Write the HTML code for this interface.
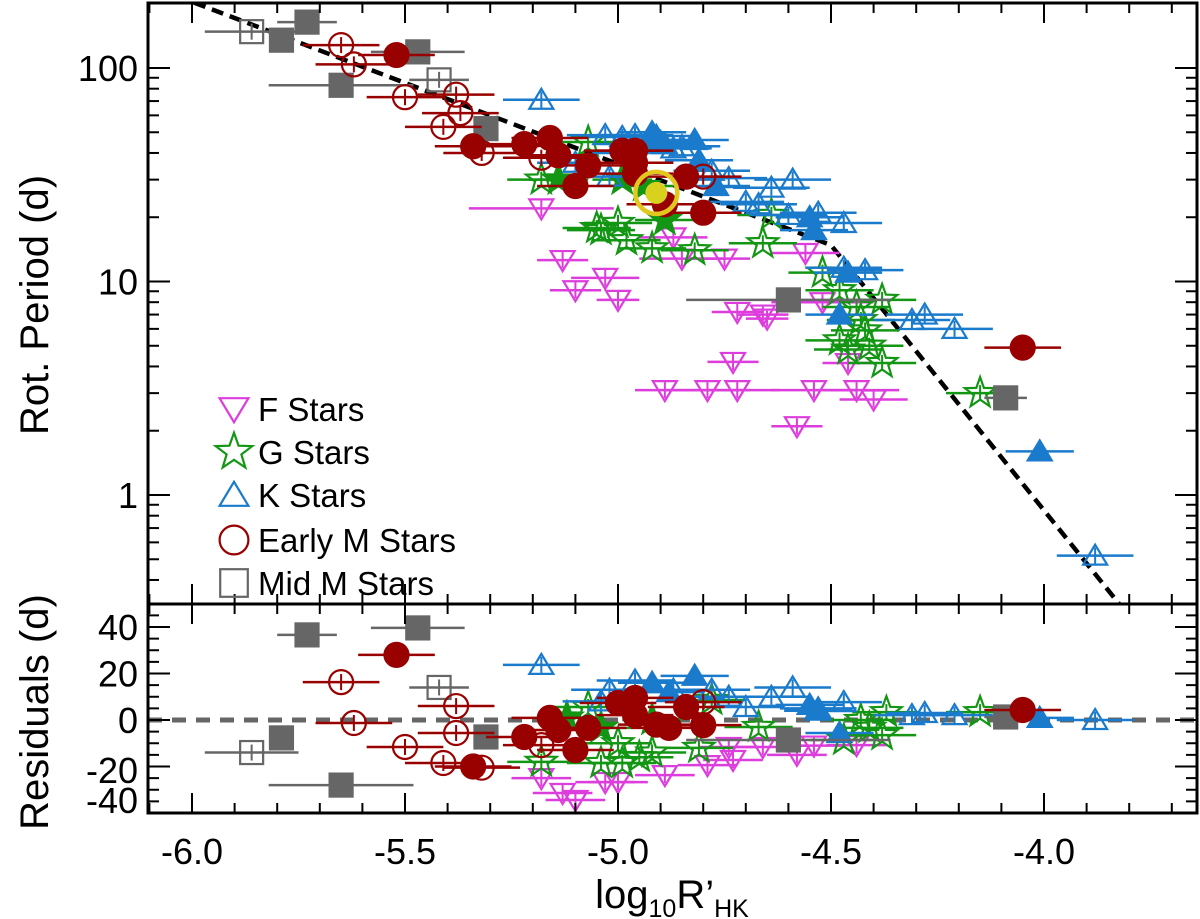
<!DOCTYPE html>
<html><head><meta charset="utf-8"><style>
html,body{margin:0;padding:0;background:#fff;width:1200px;height:919px;overflow:hidden}
svg text{font-family:"Liberation Sans",Arial,sans-serif;fill:#000}
</style></head><body>
<svg id="chart" width="1200" height="919" viewBox="0 0 1200 919" xmlns="http://www.w3.org/2000/svg">
<defs>
<clipPath id="clipTop"><rect x="148" y="3" width="1049" height="601"/></clipPath>
<clipPath id="clipBot"><rect x="148" y="604" width="1049" height="209"/></clipPath>
</defs>
<g id="topMarks" clip-path="url(#clipTop)"></g>
<g id="botMarks" clip-path="url(#clipBot)"></g>
<g id="axes"></g>
<text transform="translate(48,305) rotate(-90)" text-anchor="middle" font-size="40">Rot. Period (d)</text>
<text transform="translate(48,712) rotate(-90)" text-anchor="middle" font-size="40">Residuals (d)</text>
<text x="672" y="908" text-anchor="middle" font-size="40">log<tspan font-size="25" dy="9">10</tspan><tspan dy="-9">R’</tspan><tspan font-size="25" dy="9">HK</tspan></text>
<g id="legend"></g>
</svg>
<script>
// ---------- data ----------
const fX=[-5.18,-5.13,-5.10,-5.03,-5.00,-4.87,-4.85,-4.75,-4.72,-4.66,-4.65,-4.56,-4.52,-4.46,-4.73,-4.89,-4.79,-4.72,-4.54,-4.44,-4.40,-4.58];
const fP=[22,12.6,9.1,10.4,8.2,16.1,12.8,12.8,7.2,7.0,6.7,13.6,8.0,4.15,4.2,3.1,3.1,3.1,3.1,3.1,2.8,2.1];
const fE=[0.17,0.06,0.06,0.08,0.05,0.08,0.1,0.06,0.06,0.06,0.05,0.08,0.12,0.06,0.06,0.07,0.1,0.1,0.1,0.1,0.08,0.06];
const gX=[-5.18,-5.07,-5.04,-5.00,-4.98,-4.92,-4.82,-4.66,-4.64,-4.52,-4.48,-4.44,-4.43,-4.41,-4.42,-4.38,-4.38,-4.46,-4.15,-4.48,-5.05];
const gP=[30,45,17.4,18.8,15.6,14.3,14,15.1,20.5,11,5.3,7.6,6.6,5.0,5.9,8.2,4.15,4.8,3.0,9.1,17.8];
const gFX=[-5.14,-4.89,-4.99,-4.94];
const gFP=[30,19.4,30,28];
const kX=[-5.18,-5.03,-4.99,-4.96,-4.87,-4.85,-5.10,-5.02,-4.78,-4.74,-4.59,-4.64,-4.70,-4.47,-4.60,-4.53,-4.47,-4.42,-4.31,-4.28,-4.21,-3.88,-4.67,-4.97,-4.90];
const kP=[71,48.5,47.5,48.5,42,43,36,31,33,30.5,30,27.5,23.6,18.8,20.5,21,11.6,11.3,6.6,7,6.0,0.52,23,40,45];
const kFX=[-4.92,-4.91,-4.82,-4.81,-4.77,-4.55,-4.54,-4.46,-4.48,-4.01,-4.89];
const kFP=[50,48,46,37,28,20,17.4,11,7,1.6,44];
const emX=[-5.65,-5.62,-5.50,-5.38,-5.37,-5.41,-5.32,-5.18,-4.80];
const emP=[128,104,73,75,61.5,53,40,38,31];
const emFX=[-5.52,-5.34,-5.22,-5.16,-5.14,-5.07,-5.10,-4.99,-4.96,-4.96,-4.84,-4.80,-4.89,-4.96,-4.05];
const emFP=[115,43,44,47,39,35,28,41,41,36,31,21,23,32,4.9];
const mmFX=[-5.73,-5.79,-5.47,-5.65,-5.31,-4.60,-4.09];
const mmFP=[164,135,119,83,52,8.2,2.85];
const mmFE=[0.07,0.02,0.11,0.17,0.02,0.24,0.05];
const mmX=[-5.86,-5.42];
const mmP=[148,88];
const mmE=[0.11,0.07];
const sunX=[-4.91];
const sunP=[26];
const fitX=[-6.12,-4.50,-3.80];
const fitP=[252,14.8,0.27];
// residuals
const rfX=[-5.18,-5.13,-5.10,-5.03,-5.00,-4.89,-4.79,-4.74,-4.73,-4.66,-4.58,-4.54,-4.44];
const rfV=[-25,-31.4,-34.4,-26.7,-26.7,-23.7,-19.4,-11.6,-17.2,-11.6,-15,-11,-10.8];
const rgX=[-5.18,-5.07,-5.04,-4.99,-4.95,-4.92,-4.81,-5.00,-4.78,-4.67,-4.15,-4.47,-4.43,-4.38,-4.41,-4.37];
const rgV=[-18,5.6,-18.5,-18.5,-16,-14,-12,-10,8.6,-3,3.4,-8.6,0,-6.5,-3.4,3.4];
const rgFX=[-5.12,-4.92,-5.04];
const rgFV=[1,0,-3.4];
const rkX=[-5.18,-4.96,-5.02,-4.87,-4.78,-4.74,-4.70,-4.64,-4.59,-4.47,-4.31,-4.28,-4.21,-3.88,-5.04,-4.53];
const rkV=[23.7,17,13,13,13,10,5.6,10,14,7.7,2.1,3,2.1,0,8,5];
const rkFX=[-4.92,-4.82,-4.55,-4.53,-4.48,-4.01,-4.88];
const rkFV=[16,19,6.5,4,-5.6,0.9,12];
const remX=[-5.65,-5.62,-5.50,-5.38,-5.38,-5.41,-5.32,-5.18,-4.80];
const remV=[16.3,-1.3,-11.6,6,-5.6,-18.5,-20.5,-10.8,7.7];
const remFX=[-5.52,-5.34,-5.22,-5.16,-5.14,-5.10,-5.07,-5.00,-4.96,-4.96,-4.91,-4.88,-4.84,-4.80,-4.05];
const remFV=[28,-20,-7.3,0.9,-4.3,-12.9,-3.4,7.3,9.5,2.1,-2,-3.4,5.6,-2.2,4.3];
const rmmFX=[-5.73,-5.79,-5.47,-5.65,-5.31,-4.60,-4.09];
const rmmFV=[36.6,-7.7,39.6,-28,-7.3,-8.6,1.3];
const rmmX=[-5.86,-5.42];
const rmmV=[-14,14];
const xTicks=["-6.0","-5.5","-5.0","-4.5","-4.0"];
const yTicks=["1","10","100"];
const rTicks=["-40","-20","0","20","40"];

// ---------- scales ----------
const NS="http://www.w3.org/2000/svg";
const X=v=>192+(v+6)*426;
const YT=p=>495-Math.log10(p)*213.5;
const YB=r=>720-r*2.325;
const C={F:"#dd3ddd",G:"#139613",K:"#1a7acc",EM:"#990000",MM:"#666666"};
function mk(tag,attrs,parent){const e=document.createElementNS(NS,tag);for(const k in attrs)e.setAttribute(k,attrs[k]);parent.appendChild(e);return e;}
function line(p,x1,y1,x2,y2,col,w,extra){return mk('line',Object.assign({x1,y1,x2,y2,stroke:col,'stroke-width':w},extra||{}),p);}
function shape(p,type,cx,cy,col,filled,s){
  s=s||1;let el;
  const fill=filled?col:"none";
  if(type==='tdown'){const w=12*s,h=20*s;el=mk('path',{d:`M${cx-w},${cy-h*0.45}L${cx+w},${cy-h*0.45}L${cx},${cy+h*0.55}Z`,fill:fill,stroke:col,'stroke-width':2.2},p);}
  else if(type==='tup'){const w=12*s,h=20*s;el=mk('path',{d:`M${cx-w},${cy+h*0.45}L${cx+w},${cy+h*0.45}L${cx},${cy-h*0.55}Z`,fill:fill,stroke:col,'stroke-width':2.2},p);}
  else if(type==='star'){let d='';for(let i=0;i<10;i++){const r=(i%2?6.5:16)*s;const a=-Math.PI/2+i*Math.PI/5;d+=(i?'L':'M')+(cx+r*Math.cos(a)).toFixed(1)+','+(cy+r*Math.sin(a)).toFixed(1);}el=mk('path',{d:d+'Z',fill:fill,stroke:col,'stroke-width':2.2},p);}
  else if(type==='circ'){el=mk('circle',{cx,cy,r:12*s,fill:fill,stroke:col,'stroke-width':2.2},p);}
  else {const h=11.5*s;el=mk('rect',{x:cx-h,y:cy-h,width:2*h,height:2*h,fill:fill,stroke:col,'stroke-width':2.2},p);}
  return el;
}
function series(p,xs,ys,errs,yS,type,col,filled,name,defErr){
  const g=mk('g',{},p);
  
  
  for(let i=0;i<xs.length;i++){
    const cx=X(xs[i]),cy=yS(ys[i]);const er=errs?errs[i]:defErr;
    const bar=line(g,X(xs[i]-er),cy,X(xs[i]+er),cy,col,2.5);
    
    
    const vb=line(g,cx,cy-8,cx,cy+8,col,2);
    
    
    const m=shape(g,type,cx,cy,col,filled);
    
    
  }
}
const topG=document.getElementById('topMarks'),botG=document.getElementById('botMarks'),ax=document.getElementById('axes');

// fit line
let fd='';for(let i=0;i<fitX.length;i++)fd+=(i?'L':'M')+X(fitX[i])+','+YT(fitP[i]);
const fit=mk('path',{d:fd,fill:'none',stroke:'#000','stroke-width':4.5,'stroke-dasharray':'12,7'},topG);



series(topG,fX,fP,fE,YT,'tdown',C.F,false,'f-stars',0.07);
series(topG,gX,gP,null,YT,'star',C.G,false,'g-stars',0.08);
series(topG,gFX,gFP,null,YT,'star',C.G,true,'g-stars-filled',0.07);
series(topG,kX,kP,null,YT,'tup',C.K,false,'k-stars',0.09);
series(topG,kFX,kFP,null,YT,'tup',C.K,true,'k-stars-filled',0.08);
series(topG,mmFX,mmFP,mmFE,YT,'sq',C.MM,true,'mid-m-stars-filled',0.05);
series(topG,mmX,mmP,mmE,YT,'sq',C.MM,false,'mid-m-stars',0.05);
series(topG,emX,emP,null,YT,'circ',C.EM,false,'early-m-stars',0.09);
series(topG,emFX,emFP,null,YT,'circ',C.EM,true,'early-m-stars-filled',0.09);
for(let i=0;i<sunX.length;i++){
  const s1=mk('circle',{cx:X(sunX[i]),cy:YT(sunP[i]),r:21,fill:'none',stroke:'#e2c71e','stroke-width':4.5},topG);
  
  
  const s2=mk('circle',{cx:X(sunX[i]),cy:YT(sunP[i]),r:11,fill:'#d8d21e'},topG);
  
  
}

// residual zero line
const z=line(botG,148,YB(0),1197,YB(0),'#666',5,{'stroke-dasharray':'14,10'});


series(botG,rfX,rfV,null,YB,'tdown',C.F,false,'f-residuals',0.07);
series(botG,rgX,rgV,null,YB,'star',C.G,false,'g-residuals',0.08);
series(botG,rgFX,rgFV,null,YB,'star',C.G,true,'g-residuals-filled',0.07);
series(botG,rkX,rkV,null,YB,'tup',C.K,false,'k-residuals',0.09);
series(botG,rkFX,rkFV,null,YB,'tup',C.K,true,'k-residuals-filled',0.08);
series(botG,rmmFX,rmmFV,mmFE,YB,'sq',C.MM,true,'mid-m-residuals-filled',0.05);
series(botG,rmmX,rmmV,mmE,YB,'sq',C.MM,false,'mid-m-residuals',0.05);
series(botG,remX,remV,null,YB,'circ',C.EM,false,'early-m-residuals',0.09);
series(botG,remFX,remFV,null,YB,'circ',C.EM,true,'early-m-residuals-filled',0.09);

// frames
const f1=mk('rect',{x:148,y:3,width:1049,height:601,fill:'none',stroke:'#000','stroke-width':3},ax);


const f2=mk('rect',{x:148,y:604,width:1049,height:209,fill:'none',stroke:'#000','stroke-width':3},ax);



// x ticks
for(let k=-61;k<=-36;k++){
  const vv=k/10;const x=X(vv);if(x<149||x>1196)continue;
  const major=(k%5===0);const L=major?20:10;
  [[3,1],[604,-1],[604,1],[813,-1]].forEach(([y,dir])=>{const t=line(ax,x,y,x,y+dir*L,'#000',2);});
}
for(let i=0;i<xTicks.length;i++){
  const v=parseFloat(xTicks[i]);
  const t=mk('text',{x:X(v),y:864,'text-anchor':'middle','font-size':36},ax);t.textContent=xTicks[i];
  
  
}
// y ticks top (log)
for(let dec=-1;dec<=2;dec++){for(let m=1;m<=9;m++){
  const p=m*Math.pow(10,dec);const y=YT(p);if(y<4||y>603)continue;
  const L=m===1?22:11;
  const a=line(ax,148,y,148+L,y,'#000',2);
  const b=line(ax,1197,y,1197-L,y,'#000',2);
}}
for(let i=0;i<yTicks.length;i++){
  const t=mk('text',{x:138,y:YT(parseFloat(yTicks[i]))+13,'text-anchor':'end','font-size':36},ax);t.textContent=yTicks[i];
  
  
}
// residual ticks
for(let r=-40;r<=45;r+=5){
  const y=YB(r);if(y<605||y>812)continue;const L=(r%20===0)?22:11;
  const a=line(ax,148,y,148+L,y,'#000',2);
  const b=line(ax,1197,y,1197-L,y,'#000',2);
}
for(let i=0;i<rTicks.length;i++){
  const r=parseFloat(rTicks[i]);let y=YB(r)+13;if(r===-40)y=813;if(r===-20)y=783;
  const t=mk('text',{x:138,y:y,'text-anchor':'end','font-size':36},ax);t.textContent=rTicks[i];
  
  
}

// legend
const lg=document.getElementById('legend');
const legItems=[['tdown',C.F,'F Stars',409],['star',C.G,'G Stars',452],['tup',C.K,'K Stars',495],['circ',C.EM,'Early M Stars',540],['sq',C.MM,'Mid M Stars',583]];
legItems.forEach(([type,col,label,y])=>{
  const g=mk('g',{},lg);
  
  
  shape(g,type,234,y,col,false,1.2);
  const t=mk('text',{x:258,y:y+12,'font-size':33},g);t.textContent=label;
});
</script>
</body></html>
